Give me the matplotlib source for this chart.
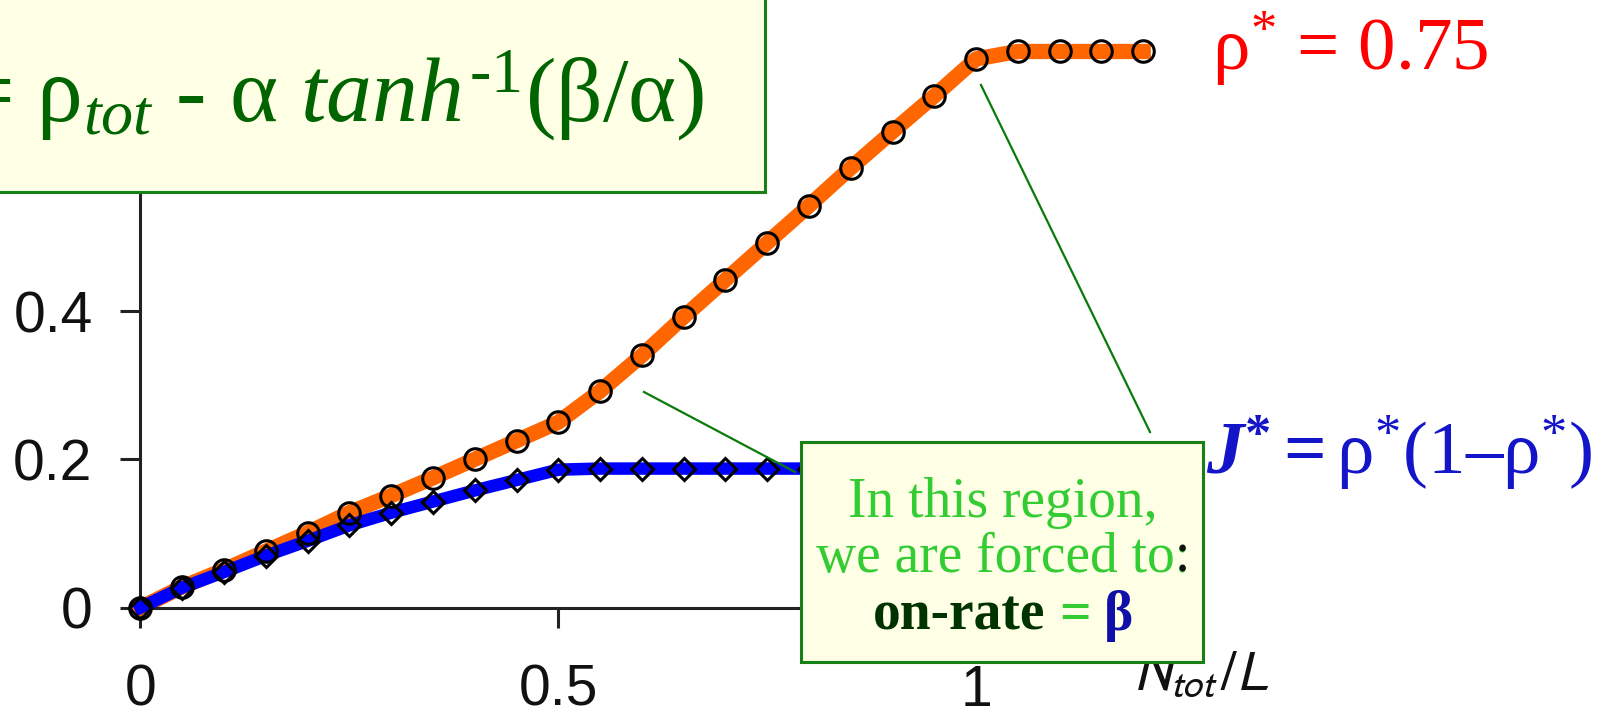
import matplotlib
matplotlib.use('Agg')
import matplotlib.pyplot as plt
from matplotlib.patches import Rectangle
from matplotlib.lines import Line2D
from matplotlib.text import Annotation

plt.rcParams['mathtext.fontset'] = 'custom'
plt.rcParams['mathtext.rm'] = 'Liberation Serif'
plt.rcParams['mathtext.it'] = 'Liberation Serif:italic'
plt.rcParams['mathtext.bf'] = 'Liberation Serif:bold'
plt.rcParams['mathtext.bfit'] = 'Liberation Serif:italic:bold'

# DATOS
n_tot = [0, 0.05, 0.1, 0.15, 0.2, 0.25, 0.3, 0.35, 0.4, 0.45, 0.5,
         0.55, 0.6, 0.65, 0.7, 0.75, 0.8, 0.85, 0.9, 0.95, 1.0,
         1.05, 1.1, 1.15, 1.2]
densidad = [0, 0.028, 0.051, 0.076, 0.101, 0.128, 0.151, 0.175, 0.200, 0.225, 0.250,
            0.292, 0.340, 0.392, 0.442, 0.492, 0.542, 0.593, 0.642, 0.690, 0.740,
            0.75, 0.75, 0.75, 0.75]
corriente = [0, 0.027, 0.048, 0.070, 0.090, 0.111, 0.128, 0.143, 0.158, 0.172, 0.186,
             0.1875, 0.1875, 0.1875, 0.1875, 0.1875, 0.1875, 0.1875, 0.1875, 0.1875, 0.1875,
             0.1875, 0.1875, 0.1875, 0.1875]
xticks = [0, 0.5, 1]
xtick_txt = ['0', '0.5', '1']
yticks = [0, 0.2, 0.4, 0.6]
ytick_txt = ['0', '0.2', '0.4', '0.6']

W, H = 1615, 715


def fx(px): return px / W
def fy(py): return (H - py) / H


fig = plt.figure(figsize=(W / 100, H / 100), dpi=100)
ax = fig.add_axes([fx(140.5), fy(607.6), 1.25 * 835.6 / W, 0.82 * 741.5 / H])
ax.set_xlim(0, 1.25)
ax.set_ylim(0, 0.82)
for lado in ['top', 'right']:
    ax.spines[lado].set_visible(False)
for lado in ['left', 'bottom']:
    ax.spines[lado].set_linewidth(2.2)
    ax.spines[lado].set_color('#222222')

ax.plot(n_tot, densidad, color='#FF6600', lw=11, zorder=2, clip_on=False)
ax.plot(n_tot, corriente, color='#0000FF', lw=9, zorder=3, clip_on=False)
ax.plot(n_tot, densidad, 'o', ms=15.5, mfc='none', mec='k', mew=2.2, zorder=4, clip_on=False)
ax.plot(n_tot, corriente, 'D', ms=11.5, mfc='none', mec='k', mew=2.2, zorder=4, clip_on=False)

ax.set_xticks(xticks, xtick_txt)
ax.set_yticks(yticks, ytick_txt)
ax.tick_params(direction='out', length=14.5, width=2.2, color='#222222', labelsize=41)
ax.tick_params(axis='x', pad=26)
ax.tick_params(axis='y', pad=20)
for t in ax.get_xticklabels() + ax.get_yticklabels():
    t.set_fontfamily('Liberation Sans')
    t.set_color('#111111')

fig.text(fx(1133), fy(690), r'$N_{tot}\,/L$', fontsize=40, math_fontfamily='stixsans',
         color='#111111', ha='left', va='baseline', zorder=1)

# caja de la formula
fig.add_artist(Rectangle((fx(-20), fy(192)), fx(785), 0.4, transform=fig.transFigure,
                         facecolor='#FFFFE6', edgecolor='#178017', lw=2.2, zorder=2))
fig.text(fx(704), fy(122), '= ρ$_{tot}$ - α $tanh^{\u20101}$(β/α)', fontsize=66,
         family='Liberation Serif', color='#006400', ha='right', va='baseline', zorder=3)

fig.text(fx(1212), fy(70.7), r'ρ$^{*}$ = 0.75', fontsize=54, family='Liberation Serif',
         color='#FF0000', ha='left', va='baseline', zorder=3)
fig.text(fx(1206), fy(474), r'$\mathbfit{J}^{\mathbf{*}}\mathbf{=}$ρ$^{*}$(1–ρ$^{*}$)',
         fontsize=54, family='Liberation Serif', color='#1414C8', ha='left', va='baseline', zorder=3)

# lineas de senalamiento
fig.add_artist(Line2D([fx(644), fx(795)], [fy(392), fy(472)], color='#0A7A0A', lw=1.6, zorder=2))
fig.add_artist(Line2D([fx(981), fx(1150)], [fy(85), fy(432)], color='#0A7A0A', lw=1.6, zorder=2))

# caja de la region
fig.add_artist(Rectangle((fx(801), fy(662)), fx(1203) - fx(801), fy(442) - fy(662),
                         transform=fig.transFigure, facecolor='#FFFFE6',
                         edgecolor='#178017', lw=2.2, zorder=2))
verde = '#33CC33'
xc = fx(1003)
fig.text(xc, fy(517), 'In this region,', fontsize=40, family='Liberation Serif',
         color=verde, ha='center', va='baseline', zorder=3)
l2 = fig.text(xc, fy(572), 'we are forced to:', fontsize=40, family='Liberation Serif',
              color=verde, ha='center', va='baseline', zorder=3)
fig.add_artist(Annotation(':', xy=(1, 0), xycoords=l2, ha='right', va='bottom',
                          fontsize=40, family='Liberation Serif', color='#111111', zorder=4))
l3 = fig.text(xc, fy(630), 'on-rate = β', fontsize=40, family='Liberation Serif',
              weight='bold', alpha=0, ha='center', va='baseline', zorder=3)
p1 = Annotation('on-rate', xy=(0, 0), xycoords=l3, ha='left', va='bottom', fontsize=40,
                family='Liberation Serif', weight='bold', color='#003300', zorder=4)
fig.add_artist(p1)
p2 = Annotation('=', xy=(1, 0), xycoords=p1, xytext=(10, 0), textcoords='offset points',
                ha='left', va='bottom', fontsize=40, family='Liberation Serif',
                weight='bold', color=verde, zorder=4)
fig.add_artist(p2)
fig.add_artist(Annotation('β', xy=(1, 0), xycoords=p2, xytext=(10, 0), textcoords='offset points',
                          ha='left', va='bottom', fontsize=40, family='Liberation Serif',
                          weight='bold', color='#1010A8', zorder=4))

fig.savefig('out.png', dpi=100)
